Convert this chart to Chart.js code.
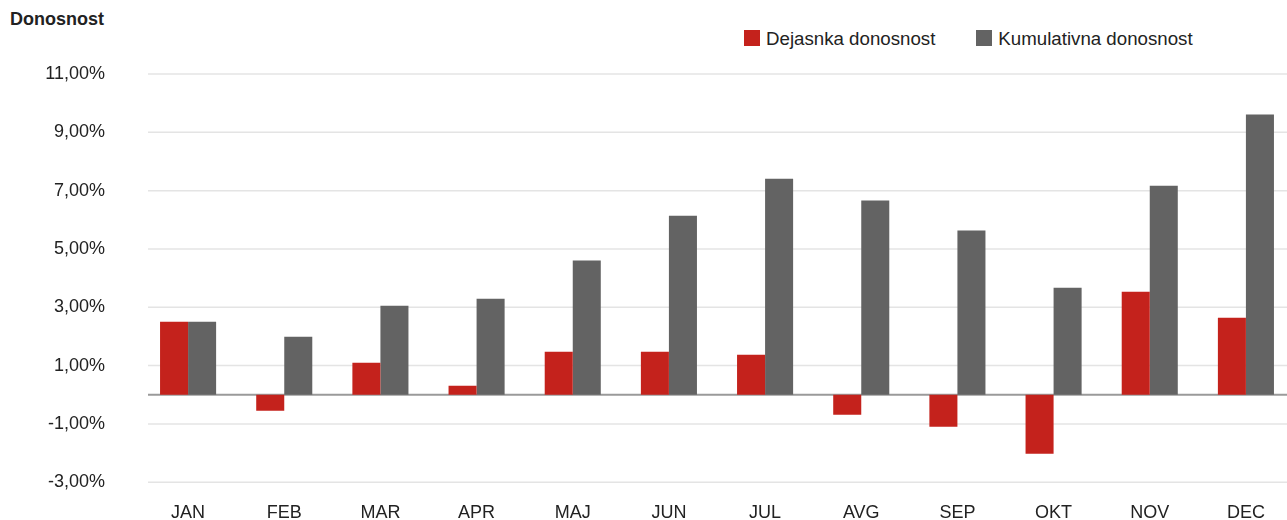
<!DOCTYPE html>
<html>
<head>
<meta charset="utf-8">
<script src="https://cdn.jsdelivr.net/npm/chart.js@4"></script>
<style>
  html, body { margin: 0; padding: 0; background: #fff; overflow: hidden; }
  body { width: 1287px; height: 520px; position: relative; font-family: "Liberation Sans", Arial, sans-serif; color: #222; }
  #yTitle { position: absolute; left: 10px; top: 9px; font-size: 18px; font-weight: bold; }
  #legend { position: absolute; left: 744px; top: 28px; font-size: 18.7px; color: #222; white-space: nowrap; }
  #legend span.item { display: inline-block; margin-right: 41px; }
  #legend i { display: inline-block; width: 16px; height: 16px; vertical-align: -1px; margin-right: 6px; }
  #returnsChart { position: absolute; left: 0; top: 0; }
</style>
</head>
<body>
<div id="yTitle">Donosnost</div>
<div id="legend"></div>
<canvas id="returnsChart" width="1294" height="528"></canvas>
<script>
const months = ["JAN", "FEB", "MAR", "APR", "MAJ", "JUN", "JUL", "AVG", "SEP", "OKT", "NOV", "DEC"];
const actualReturn = [2.50, -0.55, 1.10, 0.31, 1.47, 1.47, 1.37, -0.69, -1.10, -2.02, 3.53, 2.64];
const cumulativeReturn = [2.50, 1.99, 3.05, 3.29, 4.60, 6.14, 7.41, 6.66, 5.63, 3.67, 7.17, 9.61];
const seriesNames = ["Dejasnka donosnost", "Kumulativna donosnost"];
const seriesColors = ["#c4221c", "#636363"];
const yMin = -3, yMax = 11, yStep = 2;

(function () {
  if (typeof Chart === "undefined") return;

  const legendEl = document.getElementById("legend");
  legendEl.innerHTML = seriesNames
    .map((n, i) => '<span class="item"><i style="background:' + seriesColors[i] + '"></i>' + n + "</span>")
    .join("");

  // grid lines start a bit right of the plot edge, zero line darker
  const gridLines = {
    id: "gridLines",
    beforeDatasetsDraw(chart) {
      const y = chart.scales.y;
      const { left, right } = chart.chartArea;
      const ctx = chart.ctx;
      ctx.save();
      ctx.strokeStyle = "#e4e4e4";
      ctx.lineWidth = 1.5;
      y.ticks.forEach((t) => {
        const py = y.getPixelForValue(t.value);
        ctx.beginPath();
        ctx.moveTo(left + 8, py);
        ctx.lineTo(right, py);
        ctx.stroke();
      });
      const zy = y.getPixelForValue(0);
      ctx.strokeStyle = "#9a9a9a";
      ctx.lineWidth = 2;
      ctx.beginPath();
      ctx.moveTo(left + 8, zy);
      ctx.lineTo(right, zy);
      ctx.stroke();
      ctx.restore();
    },
  };

  new Chart(document.getElementById("returnsChart"), {
    type: "bar",
    data: {
      labels: months,
      datasets: [
        { label: seriesNames[0], data: actualReturn, backgroundColor: seriesColors[0] },
        { label: seriesNames[1], data: cumulativeReturn, backgroundColor: seriesColors[1] },
      ],
    },
    options: {
      responsive: false,
      animation: false,
      datasets: { bar: { categoryPercentage: 0.583, barPercentage: 1.0 } },
      layout: { padding: { top: 74, right: 0, bottom: 0, left: 0 } },
      plugins: { legend: { display: false }, tooltip: { enabled: false } },
      scales: {
        x: {
          afterFit(scale) { scale.height = 39; },
          grid: { display: false, drawTicks: false },
          border: { display: false },
          ticks: { color: "#222", font: { family: "Liberation Sans", size: 18 }, padding: 20 },
        },
        y: {
          min: yMin,
          max: yMax,
          afterFit(scale) { scale.width = 140; },
          ticks: {
            stepSize: yStep,
            padding: 35,
            color: "#222",
            font: { family: "Liberation Sans", size: 18 },
            callback: (v) => v.toFixed(2).replace(".", ",") + "%",
          },
          grid: { display: false, drawTicks: false },
          border: { display: false },
        },
      },
    },
    plugins: [gridLines],
  });
})();
</script>
</body>
</html>
